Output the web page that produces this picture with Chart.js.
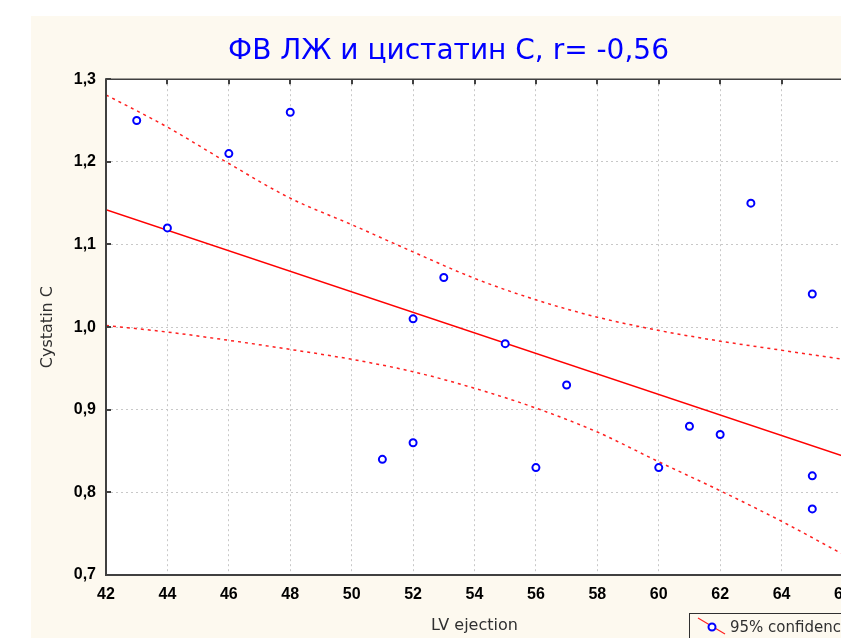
<!DOCTYPE html>
<html>
<head>
<meta charset="utf-8">
<script src="https://cdn.jsdelivr.net/npm/chart.js@4/dist/chart.umd.min.js"></script>
<style>
  html, body { margin:0; padding:0; background:#ffffff; width:841px; height:638px; overflow:hidden; }
  #wrap { position:absolute; left:31px; top:16px; width:835px; height:622px; }
</style>
</head>
<body>
<div id="wrap"><canvas id="c" width="835" height="622"></canvas></div>
<script>
// ---- data ----
const efX   = [43, 44, 46, 48, 51, 52, 52, 53, 55, 56, 57, 60, 61, 62, 63, 65, 65, 65];
const cysY  = [1.25, 1.12, 1.21, 1.26, 0.84, 1.01, 0.86, 1.06, 0.98, 0.83, 0.93, 0.83, 0.88, 0.87, 1.15, 1.04, 0.82, 0.78];
const regX  = [42, 66];
const regY  = [1.142, 0.844];
const bandX = [42, 44, 46, 48, 50, 52, 54, 56, 58, 60, 62, 64, 66];
const upperY = [1.281, 1.242, 1.198, 1.156, 1.124, 1.091, 1.059, 1.033, 1.012, 0.996, 0.983, 0.972, 0.961];
const lowerY = [1.002, 0.994, 0.984, 0.973, 0.961, 0.946, 0.926, 0.902, 0.873, 0.837, 0.802, 0.765, 0.725];
const xMin = 42, xMax = 66, xStep = 2;
const yMin = 0.7, yMax = 1.3, yStep = 0.1;
const titleText = 'ФВ ЛЖ и цистатин С, r= -0,56';
const xTitle = 'LV ejection';
const yTitle = 'Cystatin C';
const legendLabel = '95% confidence';

const toPts = (xs, ys) => xs.map((x, i) => ({x: x, y: ys[i]}));
const comma = v => String(v).replace('.', ',');

const bgPlugin = {
  id: 'bg',
  beforeDraw(chart) {
    const {ctx, chartArea: a} = chart;
    ctx.save();
    ctx.fillStyle = '#fdf9ef';
    ctx.fillRect(0, 0, chart.width, chart.height);
    ctx.fillStyle = '#ffffff';
    ctx.fillRect(a.left, a.top, a.right - a.left, a.bottom - a.top);
    ctx.restore();
  }
};

const framePlugin = {
  id: 'frame',
  afterDraw(chart) {
    const {ctx, chartArea: a, scales} = chart;
    ctx.save();
    ctx.strokeStyle = '#404040';
    // inward tick marks
    ctx.lineWidth = 2;
    scales.y.ticks.forEach(t => {
      const p = Math.round(scales.y.getPixelForValue(t.value));
      ctx.beginPath(); ctx.moveTo(a.left, p); ctx.lineTo(a.left + 5, p); ctx.stroke();
    });
    scales.x.ticks.forEach(t => {
      const p = Math.round(scales.x.getPixelForValue(t.value));
      ctx.beginPath(); ctx.moveTo(p, a.top); ctx.lineTo(p, a.top + 5); ctx.stroke();
    });
    // frame
    ctx.lineWidth = 1.5;
    ctx.beginPath(); ctx.moveTo(a.left, a.top); ctx.lineTo(a.right + 30, a.top); ctx.stroke();
    ctx.lineWidth = 2;
    ctx.beginPath(); ctx.moveTo(a.left, a.top - 1); ctx.lineTo(a.left, a.bottom); ctx.lineTo(a.right + 30, a.bottom); ctx.stroke();

    // legend box
    const lx = a.left + 583, ly = a.bottom + 38;
    ctx.lineWidth = 1;
    ctx.strokeStyle = '#303030';
    ctx.strokeRect(lx + 0.5, ly + 0.5, 220, 40);
    ctx.strokeStyle = '#ff2020';
    ctx.lineWidth = 1.2;
    ctx.beginPath(); ctx.moveTo(lx + 9, ly + 5); ctx.lineTo(lx + 36, ly + 21); ctx.stroke();
    ctx.beginPath(); ctx.arc(lx + 23, ly + 14, 3.5, 0, Math.PI * 2);
    ctx.fillStyle = '#ffffff'; ctx.fill();
    ctx.strokeStyle = '#0000ff'; ctx.lineWidth = 2; ctx.stroke();
    ctx.fillStyle = '#303030';
    ctx.font = '15px "DejaVu Sans"';
    ctx.textBaseline = 'middle';
    ctx.textAlign = 'left';
    ctx.fillText(legendLabel, lx + 41, ly + 15);
    ctx.restore();
  }
};

new Chart(document.getElementById('c'), {
  type: 'scatter',
  data: {
    datasets: [
      { label: 'Cystatin C', data: toPts(efX, cysY), showLine: false,
        pointRadius: 3.5, pointHoverRadius: 3.5, pointBorderWidth: 2,
        borderColor: '#0000ff', backgroundColor: '#ffffff', order: 0 },
      { label: 'regression', data: toPts(regX, regY), showLine: true, pointRadius: 0,
        borderColor: '#ff0000', borderWidth: 1.5, order: 1 },
      { label: legendLabel, data: toPts(bandX, upperY), showLine: true, pointRadius: 0,
        borderColor: '#ff2020', borderWidth: 1.5, borderDash: [3, 4], cubicInterpolationMode: 'monotone', order: 2 },
      { label: legendLabel + ' ', data: toPts(bandX, lowerY), showLine: true, pointRadius: 0,
        borderColor: '#ff2020', borderWidth: 1.5, borderDash: [3, 4], cubicInterpolationMode: 'monotone', order: 2 }
    ]
  },
  options: {
    responsive: false,
    animation: false,
    devicePixelRatio: 1,
    layout: { padding: { left: 23, right: 23, top: 0, bottom: 0 } },
    plugins: {
      legend: { display: false },
      tooltip: { enabled: false },
      title: {
        display: true, text: titleText, color: '#0000ff',
        font: { family: '"DejaVu Sans"', size: 28, weight: 'normal', lineHeight: 1.2 },
        padding: { top: 19, bottom: 10.6 }
      }
    },
    scales: {
      x: {
        type: 'linear', min: xMin, max: xMax,
        afterFit(s) { s.height = 63; },
        ticks: { stepSize: xStep, padding: 10, color: '#000000',
          font: { family: '"Liberation Sans", Arial', size: 16, weight: 'bold', lineHeight: 1.2 },
          callback: v => comma(v), maxRotation: 0, autoSkip: false },
        grid: { color: '#c8c8c8', lineWidth: 1, drawTicks: false },
        border: { display: false, dash: [2, 3] },
        title: { display: true, text: xTitle, color: '#303030',
          font: { family: '"DejaVu Sans"', size: 16, lineHeight: 1.2 },
          padding: { top: 0, bottom: 3 } }
      },
      y: {
        type: 'linear', min: yMin, max: yMax,
        afterFit(s) { s.width = 52; },
        ticks: { stepSize: yStep, padding: 10, color: '#000000',
          font: { family: '"Liberation Sans", Arial', size: 16, weight: 'bold', lineHeight: 1.2 },
          callback: v => comma(Number(v).toFixed(1)) },
        grid: { color: '#c8c8c8', lineWidth: 1, drawTicks: false },
        border: { display: false, dash: [2, 3] },
        title: { display: true, text: yTitle, color: '#303030',
          font: { family: '"DejaVu Sans"', size: 16, lineHeight: 1.2 },
          padding: { top: -15.6, bottom: 0 } }
      }
    }
  },
  plugins: [bgPlugin, framePlugin]
});
</script>
</body>
</html>
